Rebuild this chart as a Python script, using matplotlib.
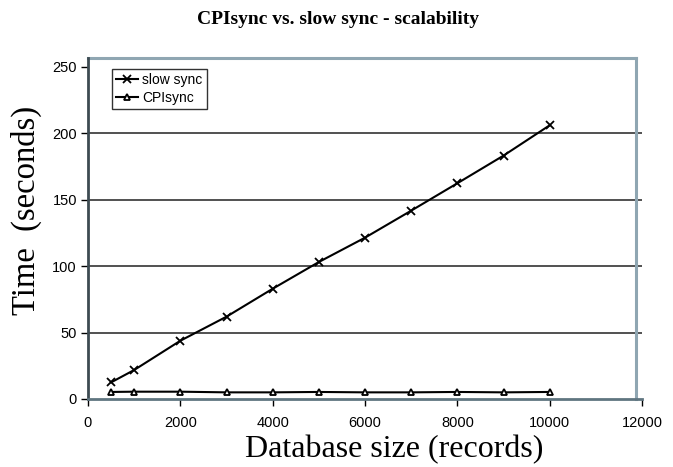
import matplotlib
matplotlib.use("Agg")
import matplotlib.pyplot as plt

db_size = [500, 1000, 2000, 3000, 4000, 5000, 6000, 7000, 8000, 9000, 10000]
slow_sync = [12.5, 21.8, 43.8, 61.9, 82.9, 103, 121.3, 141.6, 162.2, 183, 205.8]
cpisync = [5.3, 5.5, 5.5, 5.0, 5.0, 5.3, 5.0, 5.0, 5.3, 5.0, 5.3]
x_ticks = [0, 2000, 4000, 6000, 8000, 10000, 12000]
y_ticks = [0, 50, 100, 150, 200, 250]

fig = plt.figure(figsize=(6.73, 4.67), dpi=100)
ax = fig.add_axes([88/673, 1-399/467, (642-88)/673, (399-58)/467])

ax.plot(db_size, slow_sync, color='black', lw=1.5, marker='x', ms=6, mew=1.3,
        label='slow sync')
ax.plot(db_size, cpisync, color='black', lw=1.5, marker='^', ms=5, mew=1.3,
        mfc='white', label='CPIsync')

ytop = 256.4
ax.set_xlim(0, 12000)
ax.set_ylim(0, ytop)
ax.set_xticks(x_ticks)
ax.set_yticks(y_ticks)
for t in y_ticks[1:-1]:
    ax.axhline(t, color='#222222', lw=1.1, zorder=0)

for s in ['top', 'right']:
    ax.spines[s].set_visible(False)
edge_x = 11870
ax.plot([0, edge_x], [ytop, ytop], color='#8fa6b2', lw=2.2, clip_on=False, zorder=1)
ax.plot([edge_x, edge_x], [0, ytop], color='#8fa6b2', lw=2.2, clip_on=False, zorder=1)
ax.spines['left'].set_color('#3d4b52')
ax.spines['left'].set_linewidth(2)
ax.spines['bottom'].set_color('#5f7580')
ax.spines['bottom'].set_linewidth(2)

ax.tick_params(axis='both', direction='out', length=5, width=1, color='black',
               labelsize=10.5)
ax.tick_params(axis='x', pad=7)
ax.tick_params(axis='y', pad=3)
for lab in ax.get_xticklabels() + ax.get_yticklabels():
    lab.set_fontfamily('Liberation Sans')

ax.set_xlabel('Database size (records)', fontfamily='Liberation Serif', fontsize=23)
ax.xaxis.set_label_coords(0.552, -0.106)
ax.set_ylabel('Time  (seconds)', fontfamily='Liberation Serif', fontsize=23.5)
ax.yaxis.set_label_coords(-0.083, 0.554)
fig.text(338/673, 1-20/467, 'CPIsync vs. slow sync - scalability', ha='center',
         va='center', fontfamily='Liberation Serif', fontweight='bold', fontsize=14)

leg = ax.legend(loc='upper left', bbox_to_anchor=(0.043, 0.968), frameon=True,
                fancybox=False, edgecolor='black', prop={'family': 'Liberation Sans', 'size': 10},
                handlelength=1.6, handletextpad=0.3, borderpad=0.3, labelspacing=0.25,
                borderaxespad=0)
leg.get_frame().set_linewidth(1)

fig.savefig('out.png', dpi=100, facecolor='white')
